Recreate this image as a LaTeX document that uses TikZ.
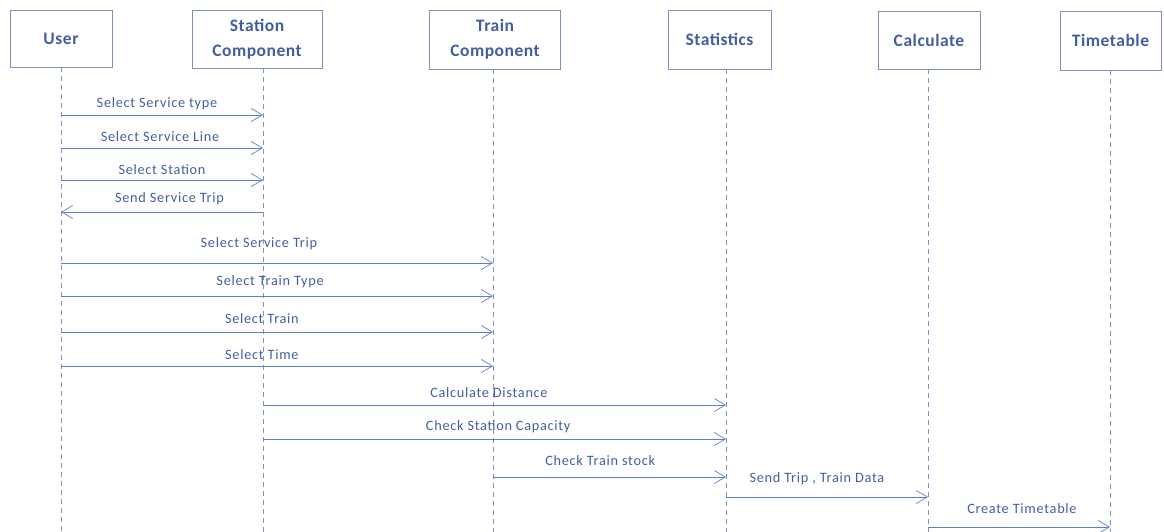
\documentclass[tikz,border=0pt]{standalone}
\usepackage{fontspec}
\setmainfont{Carlito}
\usetikzlibrary{arrows.meta}
\definecolor{txtblue}{RGB}{66,94,162}
\definecolor{boxblue}{RGB}{125,143,195}
\definecolor{lineblue}{RGB}{95,125,200}
\definecolor{lifeblue}{RGB}{130,145,190}
\begin{document}
\begin{tikzpicture}[x=1pt,y=-1pt,
  obj/.style={draw=boxblue, line width=0.8pt, fill=white, inner sep=0pt, text=txtblue,
    font=\fontsize{17.5}{25}\selectfont\bfseries\addfontfeature{LetterSpace=3}, align=center},
  life/.style={draw=lifeblue, dash pattern=on 5pt off 4pt, line width=0.7pt},
  msg/.style={draw=lineblue, line width=0.7pt, -{Straight Barb[length=11pt,width=13pt]}},
  lbl/.style={text=txtblue, font=\fontsize{14.3}{16}\selectfont\addfontfeature{LetterSpace=5}, inner sep=0pt, anchor=center}]
\useasboundingbox (0,0) rectangle (1164,532);
% objects
\node[obj, minimum width=102pt, minimum height=57pt] (user) at (61,38.5) {User};
\node[obj, minimum width=130pt, minimum height=58pt] (station) at (257,39) {Station\\Component};
\node[obj, minimum width=131pt, minimum height=59pt] (train) at (495,39.5) {Train\\Component};
\node[obj, minimum width=103pt, minimum height=59pt] (stats) at (719.5,39.5) {Statistics};
\node[obj, minimum width=102pt, minimum height=58pt] (calc) at (929,40) {Calculate};
\node[obj, minimum width=101pt, minimum height=59pt] (tt) at (1110.5,40.5) {Timetable};
% lifelines
\coordinate (uL) at (61,67);   \coordinate (uB) at (61,532);
\coordinate (sL) at (263,68);  \coordinate (sB) at (263,532);
\coordinate (tL) at (493,69);  \coordinate (tB) at (493,532);
\coordinate (stL) at (726,69); \coordinate (stB) at (726,532);
\coordinate (cL) at (928,69);  \coordinate (cB) at (928,532);
\coordinate (ttL) at (1110,70);\coordinate (ttB) at (1110,532);
\foreach \a/\b in {uL/uB,sL/sB,tL/tB,stL/stB,cL/cB,ttL/ttB}
  \draw[life] (\a) -- (\b);
% messages
\draw[msg] (uL |- 0,115) -- node[lbl,pos=0.475,yshift=11pt]{Select Service type} (sL |- 0,115);
\draw[msg] (uL |- 0,148) -- node[lbl,pos=0.49,yshift=11pt]{Select Service Line} (sL |- 0,148);
\draw[msg] (uL |- 0,180) -- node[lbl,pos=0.5,yshift=10pt]{Select Station} (sL |- 0,180);
\draw[msg] (sL |- 0,212) -- node[lbl,pos=0.463,yshift=13pt]{Send Service Trip} (uL |- 0,212);
\draw[msg] (uL |- 0,263) -- node[lbl,pos=0.458,yshift=19pt]{Select Service Trip} (tL |- 0,263);
\draw[msg] (uL |- 0,296) -- node[lbl,pos=0.484,yshift=14pt]{Select Train Type} (tL |- 0,296);
\draw[msg] (uL |- 0,332) -- node[lbl,pos=0.465,yshift=13pt]{Select Train} (tL |- 0,332);
\draw[msg] (uL |- 0,366) -- node[lbl,pos=0.465,yshift=11pt]{Select Time} (tL |- 0,366);
\draw[msg] (sL |- 0,405) -- node[lbl,pos=0.488,yshift=12pt]{Calculate Distance} (stL |- 0,405);
\draw[msg] (sL |- 0,439) -- node[lbl,pos=0.508,yshift=12pt]{Check Station Capacity} (stL |- 0,439);
\draw[msg] (tL |- 0,477) -- node[lbl,pos=0.46,yshift=16pt]{Check Train stock} (stL |- 0,477);
\draw[msg] (stL |- 0,497) -- node[lbl,pos=0.45,yshift=18pt]{Send Trip , Train Data} (cL |- 0,497);
\draw[msg] (cL |- 0,527) -- node[lbl,pos=0.516,yshift=18pt]{Create Timetable} (ttL |- 0,527);
\end{tikzpicture}
\end{document}
